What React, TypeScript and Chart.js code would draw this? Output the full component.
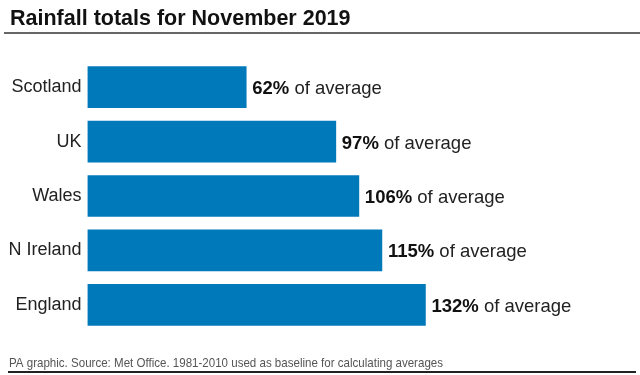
import React, { useEffect, useRef } from "react";
import { Chart, registerables } from "chart.js";

Chart.register(...registerables);

const titleText = "Rainfall totals for November 2019";
const footerText = "PA graphic. Source: Met Office. 1981-2010 used as baseline for calculating averages";
const categories = ["Scotland", "UK", "Wales", "N Ireland", "England"];
const percentOfAverage = [62, 97, 106, 115, 132];
const labelSuffix = " of average";

const BAR_COLOR = "#0079bb";
const FONT = "'Liberation Sans', Arial, sans-serif";

const decorPlugin = {
  id: "decor",
  afterDraw(chart: any) {
    const ctx = chart.ctx;
    ctx.save();
    // title
    ctx.fillStyle = "#111";
    ctx.font = `bold 21.5px ${FONT}`;
    ctx.textBaseline = "alphabetic";
    ctx.textAlign = "left";
    ctx.fillText(titleText, 10, 25);
    // title rule
    ctx.strokeStyle = "#666";
    ctx.lineWidth = 2;
    ctx.beginPath();
    ctx.moveTo(4, 33);
    ctx.lineTo(640, 33);
    ctx.stroke();
    // footer (condensed horizontally)
    ctx.fillStyle = "#555";
    ctx.font = `13px ${FONT}`;
    const fw = ctx.measureText(footerText).width;
    const sx = 434 / fw;
    ctx.save();
    ctx.translate(9, 367);
    ctx.scale(sx, 1);
    ctx.fillText(footerText, 0, 0);
    ctx.restore();
    // bottom rule
    ctx.strokeStyle = "#222";
    ctx.lineWidth = 2;
    ctx.beginPath();
    ctx.moveTo(8, 372);
    ctx.lineTo(636, 372);
    ctx.stroke();
    // value labels
    const meta = chart.getDatasetMeta(0);
    meta.data.forEach((bar: any, i: number) => {
      const v = percentOfAverage[i];
      const x = bar.x + 6;
      const y = bar.y + 2;
      ctx.textBaseline = "middle";
      ctx.fillStyle = "#111";
      ctx.font = `bold 18.5px ${FONT}`;
      const bold = `${v}%`;
      ctx.fillText(bold, x, y);
      const w = ctx.measureText(bold).width;
      ctx.fillStyle = "#222";
      ctx.font = `18.5px ${FONT}`;
      ctx.fillText(labelSuffix, x + w, y);
    });
    ctx.restore();
  },
};

export default function App() {
  const ref = useRef<HTMLCanvasElement | null>(null);
  useEffect(() => {
    document.body.style.margin = "0";
    const canvas = ref.current!;
    const chart = new Chart(canvas, {
      type: "bar",
      data: {
        labels: categories,
        datasets: [
          {
            data: percentOfAverage,
            backgroundColor: BAR_COLOR,
            borderWidth: 0,
            barThickness: 41,
          },
        ],
      },
      options: {
        indexAxis: "y",
        responsive: false,
        animation: false,
        layout: { padding: { top: 60, bottom: 43, left: 0, right: 20 } },
        plugins: {
          legend: { display: false },
          tooltip: { enabled: false },
          title: { display: false },
        },
        scales: {
          x: {
            min: 0,
            max: 208,
            display: false,
          },
          y: {
            grid: { display: false, drawTicks: false },
            border: { display: false },
            ticks: {
              padding: 6,
              color: "#222",
              font: { family: FONT, size: 18 },
            },
            afterFit(scale: any) {
              scale.width = 87.5;
            },
          },
        },
      },
      plugins: [decorPlugin],
    } as any);
    return () => chart.destroy();
  }, []);
  return (
    <div style={{ position: "relative", width: 640, height: 375 }}>
      <canvas ref={ref} width={640} height={375} style={{ display: "block" }} />
    </div>
  );
}
